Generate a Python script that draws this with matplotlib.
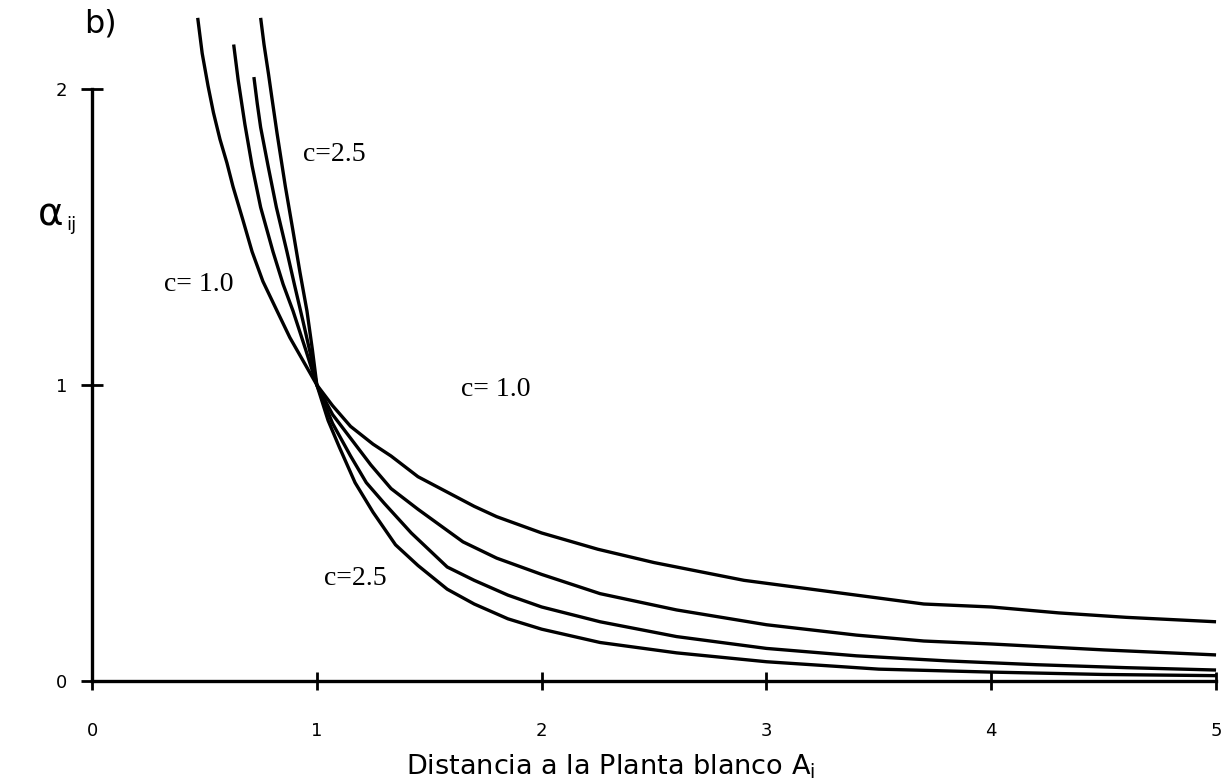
import matplotlib
matplotlib.use("Agg")
import matplotlib.pyplot as plt

# values (distance d, alpha_ij)
d_c10 = [0.47, 0.49, 0.516, 0.54, 0.569, 0.60, 0.627, 0.67, 0.712, 0.76, 0.823, 0.88, 0.94, 1.0, 1.07, 1.15,
         1.25, 1.33, 1.45, 1.6, 1.7, 1.8, 2.0, 2.25, 2.5, 2.9, 3.2, 3.5, 3.7, 4.0, 4.3, 4.6, 5.0]
a_c10 = [2.24, 2.12, 2.01, 1.92, 1.83, 1.75, 1.67, 1.56, 1.45, 1.35, 1.25, 1.16, 1.08, 1.0, 0.93, 0.86,
         0.80, 0.76, 0.69, 0.63, 0.59, 0.555, 0.50, 0.445, 0.40, 0.34, 0.31, 0.28, 0.26, 0.25, 0.23, 0.215, 0.20]

d_c15 = [0.63, 0.65, 0.68, 0.712, 0.75, 0.805, 0.85, 0.894, 0.95, 1.0, 1.07, 1.15, 1.24, 1.33, 1.45,
         1.65, 1.8, 2.0, 2.26, 2.6, 3.0, 3.4, 3.7, 4.0, 4.5, 5.0]
a_c15 = [2.15, 2.03, 1.88, 1.74, 1.60, 1.45, 1.34, 1.25, 1.12, 1.0, 0.90, 0.82, 0.73, 0.65, 0.58,
         0.47, 0.415, 0.36, 0.295, 0.24, 0.19, 0.155, 0.135, 0.125, 0.105, 0.088]

d_c20 = [0.72, 0.735, 0.75, 0.783, 0.82, 0.867, 0.90, 0.94, 0.97, 1.0, 1.07, 1.15, 1.22, 1.3, 1.42,
         1.58, 1.7, 1.85, 2.0, 2.26, 2.6, 3.0, 3.4, 3.8, 4.2, 4.6, 5.0]
a_c20 = [2.04, 1.95, 1.87, 1.74, 1.60, 1.45, 1.34, 1.21, 1.11, 1.0, 0.87, 0.76, 0.67, 0.60, 0.50,
         0.385, 0.34, 0.29, 0.25, 0.20, 0.15, 0.11, 0.085, 0.068, 0.055, 0.045, 0.037]

d_c25 = [0.75, 0.765, 0.785, 0.80, 0.823, 0.86, 0.894, 0.925, 0.956, 0.98, 1.0, 1.05, 1.1, 1.17, 1.25, 1.35,
         1.45, 1.58, 1.7, 1.85, 2.0, 2.26, 2.6, 3.0, 3.5, 4.0, 4.5, 5.0]
a_c25 = [2.24, 2.15, 2.05, 1.97, 1.85, 1.67, 1.52, 1.38, 1.25, 1.12, 1.0, 0.88, 0.79, 0.67, 0.57, 0.46,
         0.39, 0.31, 0.26, 0.21, 0.175, 0.13, 0.095, 0.065, 0.04, 0.03, 0.022, 0.018]

xticks = [0, 1, 2, 3, 4, 5]
yticks = [0, 1, 2]

fig = plt.figure(figsize=(12.24, 7.84), dpi=100)
ax = fig.add_axes([0.0752, 0.1314, 0.9183, 0.8496])

for xs, ys in [(d_c10, a_c10), (d_c15, a_c15), (d_c20, a_c20), (d_c25, a_c25)]:
    ax.plot(xs, ys, color="black", lw=2.4, solid_joinstyle="round", solid_capstyle="butt", clip_on=False)

ax.set_xlim(0, 5)
ax.set_ylim(0, 2.25)

ax.spines["top"].set_visible(False)
ax.spines["right"].set_visible(False)
ax.spines["left"].set_bounds(0, 2)
ax.spines["left"].set_linewidth(2.4)
ax.spines["bottom"].set_linewidth(2.4)

ax.set_xticks(xticks)
ax.set_yticks(yticks)
ax.tick_params(axis="x", direction="inout", length=13, width=2, pad=23, labelsize=13)
ax.tick_params(axis="y", direction="inout", length=16, width=2, pad=10, labelsize=13)

# curve labels (serif, as in the original)
serif = dict(family="Liberation Serif", fontsize=20, color="black", va="center")
ax.text(0.94, 1.78, "c=2.5", **serif)
ax.text(0.32, 1.34, "c= 1.0", **serif)
ax.text(1.64, 0.985, "c= 1.0", **serif)
ax.text(1.03, 0.345, "c=2.5", **serif)

fig.text(0.069, 0.958, "b)", fontsize=23, color="black")
fig.text(0.031, 0.712, "\u03b1", fontsize=28, color="black")
fig.text(0.054, 0.707, "ij", fontsize=13, color="black")
fig.text(0.499, 0.012, r"Distancia a la Planta blanco A$_\mathregular{i}$", fontsize=19.5,
         ha="center", color="black")

fig.savefig("out.png", dpi=100)
